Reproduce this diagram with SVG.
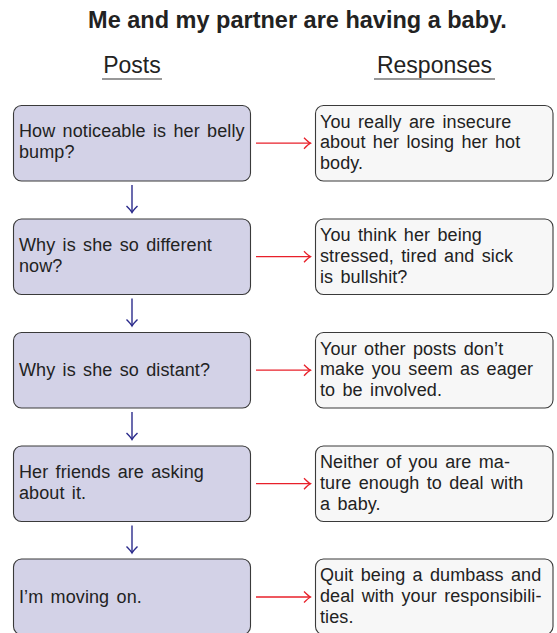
<svg xmlns="http://www.w3.org/2000/svg" width="557" height="633" viewBox="0 0 557 633">
<defs>
<style>
.t{font-family:"Liberation Sans",Arial,sans-serif;fill:#222;}
.title{font-size:23.5px;font-weight:bold;}
.hd{font-size:23px;}
.bx{font-size:18px;word-spacing:2.2px;letter-spacing:0.1px;}
.post{fill:#d3d2e7;stroke:#3a3a3a;stroke-width:1.1;}
.resp{fill:#f7f7f7;stroke:#3a3a3a;stroke-width:1.1;}
.red{stroke:#e8202a;stroke-width:1.3;fill:none;}
.blue{stroke:#2b2b8c;stroke-width:1.4;fill:none;}
</style>
<marker id="ar" markerUnits="userSpaceOnUse" markerWidth="14" markerHeight="14" viewBox="-8 -7 10 14" refX="0" refY="0" orient="auto">
<path d="M-6.5,-5.5 Q-2,-1 0,0 Q-2,1 -6.5,5.5" fill="none" stroke="#e8202a" stroke-width="1.3"/>
</marker>
<marker id="ab" markerUnits="userSpaceOnUse" markerWidth="14" markerHeight="14" viewBox="-8 -7 10 14" refX="0" refY="0" orient="auto">
<path d="M-6.5,-5.5 Q-2,-1 0,0 Q-2,1 -6.5,5.5" fill="none" stroke="#2b2b8c" stroke-width="1.4"/>
</marker>
</defs>
<rect width="557" height="633" fill="#fff"/>
<g id="title">
<text class="t title" x="297.5" y="28.3" text-anchor="middle">Me and my partner are having a baby.</text>
</g>
<g id="headers">
<text class="t hd" x="132" y="72.8" text-anchor="middle">Posts</text>
<line x1="102" y1="79" x2="162" y2="79" stroke="#333" stroke-width="1.1"/>
<text class="t hd" x="434.5" y="72.8" text-anchor="middle">Responses</text>
<line x1="374" y1="79" x2="495" y2="79" stroke="#333" stroke-width="1.1"/>
</g>
<g id="post1"><rect class="post" x="13.5" y="105.5" width="237" height="75.5" rx="8"/>
<text class="t bx" x="19" y="137"><tspan x="19">How noticeable is her belly</tspan><tspan x="19" dy="21.3">bump?</tspan></text></g>
<g id="resp1"><rect class="resp" x="315.5" y="105.5" width="237.5" height="75.5" rx="8"/>
<text class="t bx" x="320" y="127.5"><tspan x="320">You really are insecure</tspan><tspan x="320" dy="20.8">about her losing her hot</tspan><tspan x="320" dy="20.8">body.</tspan></text></g>
<g id="post2"><rect class="post" x="13.5" y="219" width="237" height="75.5" rx="8"/>
<text class="t bx" x="19" y="250.5"><tspan x="19">Why is she so different</tspan><tspan x="19" dy="21.3">now?</tspan></text></g>
<g id="resp2"><rect class="resp" x="315.5" y="219" width="237.5" height="75.5" rx="8"/>
<text class="t bx" x="320" y="241"><tspan x="320">You think her being</tspan><tspan x="320" dy="20.8">stressed, tired and sick</tspan><tspan x="320" dy="20.8">is bullshit?</tspan></text></g>
<g id="post3"><rect class="post" x="13.5" y="332.5" width="237" height="75.5" rx="8"/>
<text class="t bx" x="19" y="376.3">Why is she so distant?</text></g>
<g id="resp3"><rect class="resp" x="315.5" y="332.5" width="237.5" height="75.5" rx="8"/>
<text class="t bx" x="320" y="354.5"><tspan x="320">Your other posts don’t</tspan><tspan x="320" dy="20.8">make you seem as eager</tspan><tspan x="320" dy="20.8">to be involved.</tspan></text></g>
<g id="post4"><rect class="post" x="13.5" y="446" width="237" height="75.5" rx="8"/>
<text class="t bx" x="19" y="477.5"><tspan x="19">Her friends are asking</tspan><tspan x="19" dy="21.3">about it.</tspan></text></g>
<g id="resp4"><rect class="resp" x="315.5" y="446" width="237.5" height="75.5" rx="8"/>
<text class="t bx" x="320" y="468"><tspan x="320">Neither of you are ma-</tspan><tspan x="320" dy="20.8">ture enough to deal with</tspan><tspan x="320" dy="20.8">a baby.</tspan></text></g>
<g id="post5"><rect class="post" x="13.5" y="559" width="237" height="75.5" rx="8"/>
<text class="t bx" x="19" y="603">I’m moving on.</text></g>
<g id="resp5"><rect class="resp" x="315.5" y="559" width="237.5" height="75.5" rx="8"/>
<text class="t bx" x="320" y="581"><tspan x="320">Quit being a dumbass and</tspan><tspan x="320" dy="20.8">deal with your responsibili-</tspan><tspan x="320" dy="20.8">ties.</tspan></text></g>
<g id="connectors">
<line class="red" x1="256" y1="143.2" x2="310.5" y2="143.2" marker-end="url(#ar)"/>
<line class="red" x1="256" y1="256.7" x2="310.5" y2="256.7" marker-end="url(#ar)"/>
<line class="red" x1="256" y1="370.2" x2="310.5" y2="370.2" marker-end="url(#ar)"/>
<line class="red" x1="256" y1="483.7" x2="310.5" y2="483.7" marker-end="url(#ar)"/>
<line class="red" x1="256" y1="597" x2="310.5" y2="597" marker-end="url(#ar)"/>
<line class="blue" x1="132" y1="185" x2="132" y2="212.5" marker-end="url(#ab)"/>
<line class="blue" x1="132" y1="298.5" x2="132" y2="326" marker-end="url(#ab)"/>
<line class="blue" x1="132" y1="412" x2="132" y2="439.5" marker-end="url(#ab)"/>
<line class="blue" x1="132" y1="525.5" x2="132" y2="553" marker-end="url(#ab)"/>
</g>
</svg>
